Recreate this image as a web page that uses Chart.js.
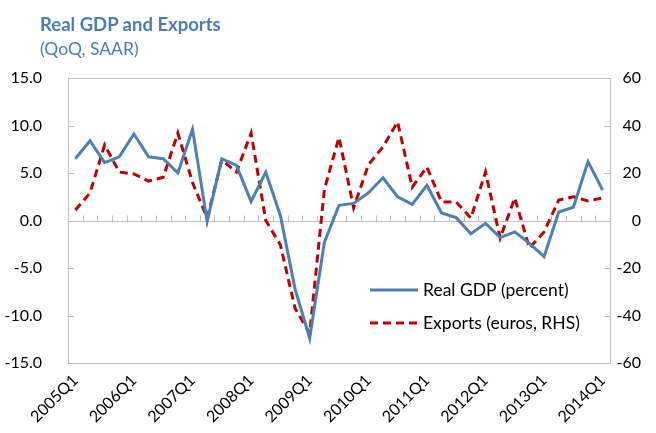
<!DOCTYPE html>
<html>
<head>
<meta charset="utf-8">
<script src="https://cdn.jsdelivr.net/npm/chart.js@4.4.1/dist/chart.umd.min.js"></script>
<style>
  html, body { margin: 0; padding: 0; background: #fff; }
  #wrap { position: relative; width: 656px; height: 433px; }
  #title { position: absolute; left: 40px; top: 13px; font: bold 18.5px Lato, sans-serif; color: #4a7eb2; }
  #subtitle { position: absolute; left: 40px; top: 38px; font: 17.5px Lato, sans-serif; color: #4a7eb2; }
  canvas { position: absolute; left: 0; top: 0; }
</style>
</head>
<body>
<div id="wrap">
  <canvas id="chart" width="656" height="433"></canvas>
  <div id="title">Real GDP and Exports</div>
  <div id="subtitle">(QoQ, SAAR)</div>
</div>
<script>
// quarters 2005Q1 .. 2014Q1
const quarters = [];
for (let y = 2005; y <= 2014; y++) {
    for (let q = 1; q <= 4; q++) {
        if (y === 2014 && q > 1) break;
        quarters.push(y + 'Q' + q);
    }
}

// Real GDP, percent (left axis)
const gdp = [
    6.5, 8.4, 6.1, 6.7, 9.1, 6.7, 6.5, 5.0, 9.6, -0.1,
    6.5, 5.8, 2.0, 5.1, 0.5, -7.2, -12.4, -2.3, 1.6, 1.8,
    2.9, 4.5, 2.5, 1.7, 3.7, 0.8, 0.3, -1.4, -0.3, -1.8,
    -1.2, -2.4, -3.8, 0.9, 1.4, 6.2, 3.2
];

// Exports, euros (right axis)
const exportsEur = [
    4.4, 11.6, 31.8, 20.4, 19.6, 16.6, 18.2, 36.8, 16.0, 1.0,
    25.5, 20.4, 36.8, 0.0, -10.3, -37.0, -47.5, 13.0, 35.0, 5.3,
    23.4, 31.0, 41.5, 14.0, 22.5, 7.8, 7.8, 1.0, 20.4, -7.4,
    9.5, -11.6, -4.8, 8.6, 10.0, 8.2, 9.5
];

const leftTicks = [-15, -10, -5, 0, 5, 10, 15];
const rightTicks = [-60, -40, -20, 0, 20, 40, 60];

const blue = '#4a80b4';
const red = '#c00000';
const frame = '#bfbfbf';
const fontFamily = 'Lato, sans-serif';

// box, zero line, inward ticks, legend
const framePlugin = {
    id: 'frame',
    beforeDatasetsDraw(chart) {
        const { ctx, chartArea: a, scales } = chart;
        ctx.save();
        ctx.strokeStyle = frame;
        ctx.lineWidth = 1;
        ctx.strokeRect(a.left + 0.5, a.top + 0.5, a.right - a.left, a.bottom - a.top);

        const y0 = Math.round(scales.y.getPixelForValue(0)) + 0.5;
        ctx.beginPath();
        ctx.moveTo(a.left, y0);
        ctx.lineTo(a.right, y0);
        // x tick marks between quarters
        const x = scales.x;
        for (let i = 1; i < quarters.length; i++) {
            const px = Math.round((x.getPixelForValue(i - 1) + x.getPixelForValue(i)) / 2) + 0.5;
            ctx.moveTo(px, y0);
            ctx.lineTo(px, y0 - 6);
        }
        leftTicks.forEach(v => {
            const py = Math.round(scales.y.getPixelForValue(v)) + 0.5;
            ctx.moveTo(a.left, py);
            ctx.lineTo(a.left + 6, py);
        });
        rightTicks.forEach(v => {
            const py = Math.round(scales.y1.getPixelForValue(v)) + 0.5;
            ctx.moveTo(a.right, py);
            ctx.lineTo(a.right - 6, py);
        });
        ctx.stroke();
        ctx.restore();
    },
    afterDatasetsDraw(chart) {
        const { ctx } = chart;
        const rows = [{ ds: chart.data.datasets[0], y: 290 }, { ds: chart.data.datasets[1], y: 323 }];
        ctx.save();
        ctx.font = '17.5px ' + fontFamily;
        ctx.textBaseline = 'middle';
        ctx.fillStyle = '#000';
        rows.forEach(r => {
            ctx.beginPath();
            ctx.strokeStyle = r.ds.borderColor;
            ctx.lineWidth = r.ds.borderWidth;
            ctx.setLineDash(r.ds.borderDash || []);
            ctx.moveTo(370, r.y);
            ctx.lineTo(418, r.y);
            ctx.stroke();
            ctx.fillText(r.ds.label, 423, r.y);
        });
        ctx.restore();
    }
};

new Chart(document.getElementById('chart'), {
    type: 'line',
    data: {
        labels: quarters,
        datasets: [
            {
                label: 'Real GDP (percent)',
                data: gdp,
                borderColor: blue,
                borderWidth: 3,
                pointRadius: 0,
                tension: 0,
                yAxisID: 'y'
            },
            {
                label: 'Exports (euros, RHS)',
                data: exportsEur,
                borderColor: red,
                borderWidth: 3,
                borderDash: [8, 5],
                pointRadius: 0,
                tension: 0,
                yAxisID: 'y1'
            }
        ]
    },
    options: {
        responsive: false,
        animation: false,
        layout: { padding: { top: 78, right: 15, left: 0, bottom: 0 } },
        plugins: {
            legend: { display: false },
            tooltip: { enabled: false }
        },
        scales: {
            x: {
                offset: true,
                grid: { display: false },
                border: { display: false },
                afterFit: s => { s.height = 70; },
                ticks: {
                    autoSkip: false,
                    minRotation: 45,
                    maxRotation: 45,
                    padding: 0,
                    color: '#000',
                    font: { family: fontFamily, size: 16 },
                    callback: function (v, i) {
                        return i % 4 === 0 ? quarters[i] : '';
                    }
                }
            },
            y: {
                position: 'left',
                min: -15,
                max: 15,
                grid: { display: false },
                border: { display: false },
                afterFit: s => { s.width = 68; },
                ticks: {
                    stepSize: 5,
                    padding: 18,
                    color: '#000',
                    font: { family: fontFamily, size: 16 },
                    callback: v => v.toFixed(1)
                }
            },
            y1: {
                position: 'right',
                min: -60,
                max: 60,
                grid: { display: false },
                border: { display: false },
                afterFit: s => { s.width = 31; },
                ticks: {
                    stepSize: 20,
                    crossAlign: 'far',
                    color: '#000',
                    font: { family: fontFamily, size: 16 }
                }
            }
        }
    },
    plugins: [framePlugin]
});
</script>
</body>
</html>
